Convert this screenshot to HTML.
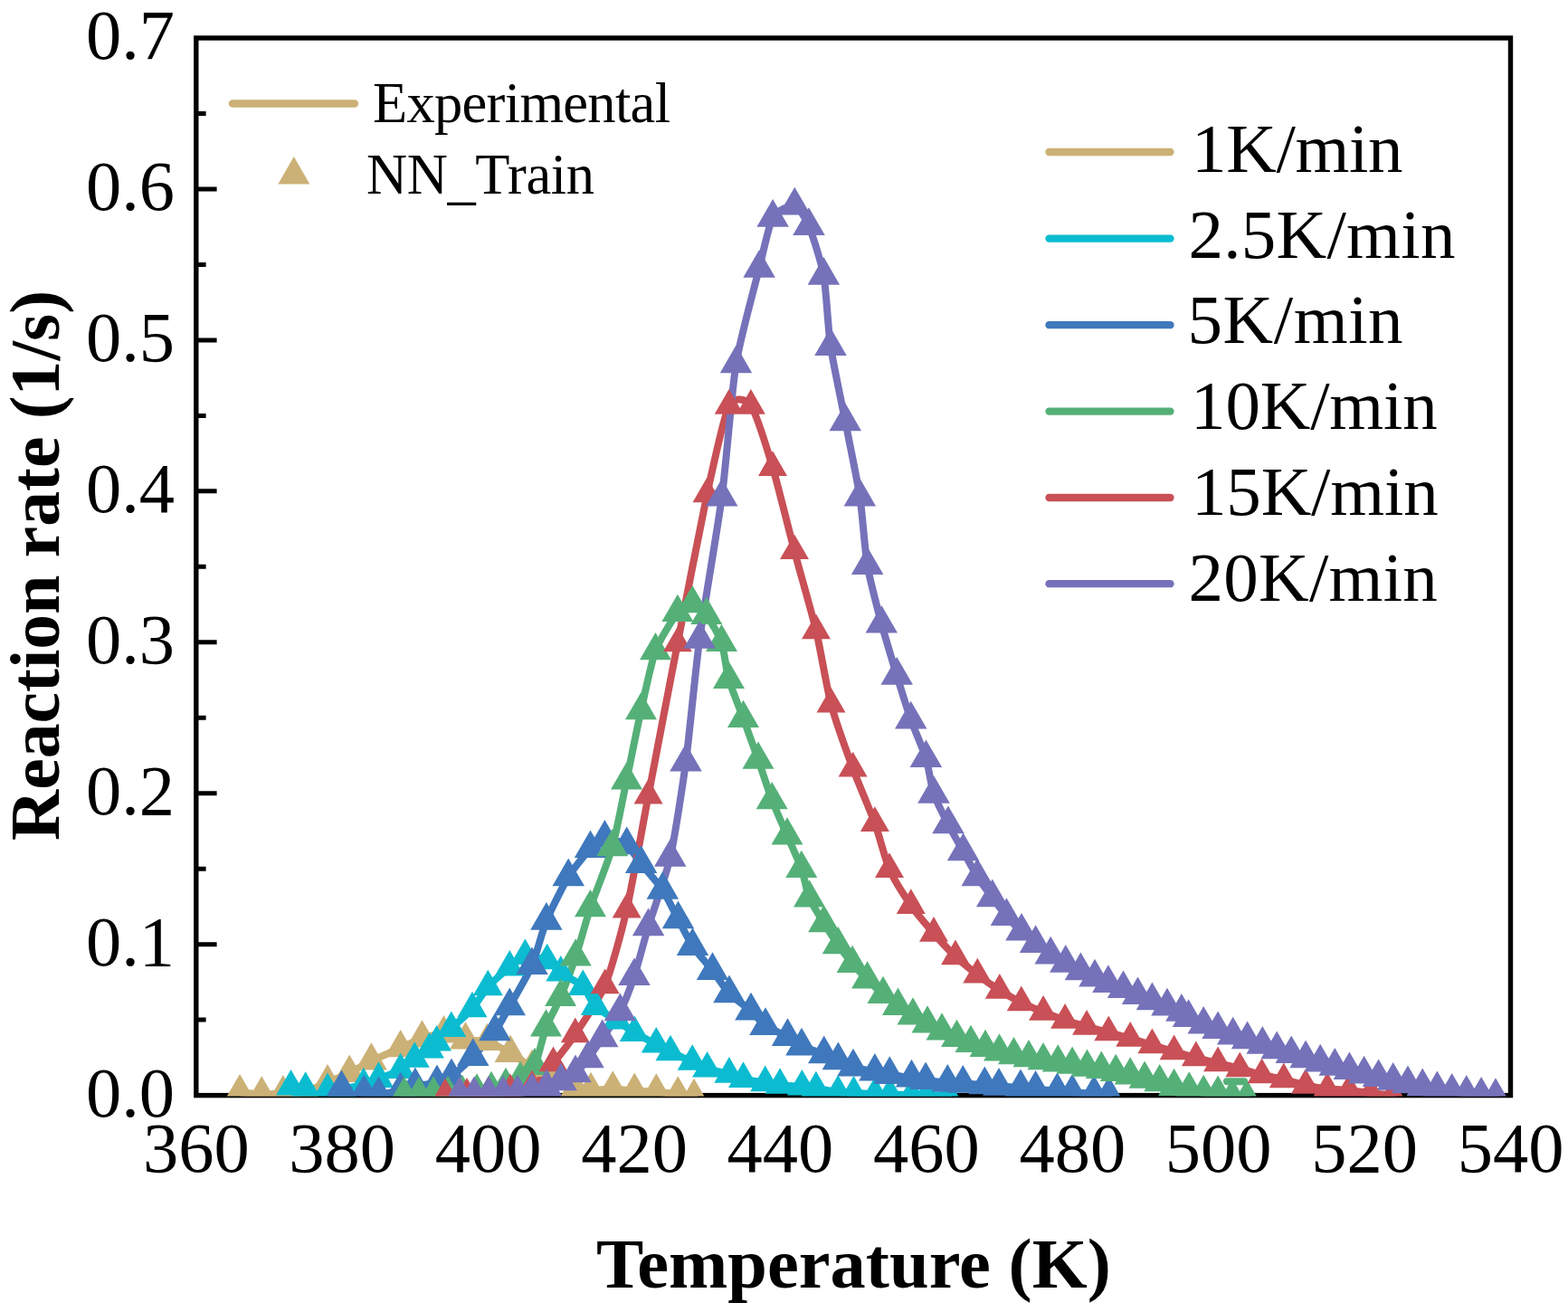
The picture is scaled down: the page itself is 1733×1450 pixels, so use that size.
<!DOCTYPE html>
<html><head><meta charset="utf-8"><title>Reaction rate vs Temperature</title><style>html,body{margin:0;padding:0;background:#fff;overflow:hidden;width:1733px;height:1450px}svg{display:block}</style></head><body>
<svg width="1733" height="1450" viewBox="0 0 1733 1450">
<defs><clipPath id="pc"><rect x="216.8" y="42" width="1452.7" height="1169.6"/></clipPath></defs>
<rect width="1733" height="1450" fill="#fff"/>
<rect x="216.8" y="42" width="1452.7" height="1168.6" fill="none" stroke="#000" stroke-width="5.4"/>
<path d="M216.8 1127.1H227.6M216.8 1043.7H239.6M216.8 960.2H227.6M216.8 876.7H239.6M216.8 793.2H227.6M216.8 709.8H239.6M216.8 626.3H227.6M216.8 542.8H239.6M216.8 459.4H227.6M216.8 375.9H239.6M216.8 292.4H227.6M216.8 208.9H239.6M216.8 125.5H227.6" stroke="#000" stroke-width="5" fill="none"/>
<g font-family="Liberation Serif, Times New Roman, serif" font-size="78.5" fill="#000">
<text x="193" y="1233.8" text-anchor="end">0.0</text>
<text x="193" y="1066.9" text-anchor="end">0.1</text>
<text x="193" y="899.9" text-anchor="end">0.2</text>
<text x="193" y="733" text-anchor="end">0.3</text>
<text x="193" y="566" text-anchor="end">0.4</text>
<text x="193" y="399.1" text-anchor="end">0.5</text>
<text x="193" y="232.1" text-anchor="end">0.6</text>
<text x="193" y="65.2" text-anchor="end">0.7</text>
<text x="216.8" y="1295.4" text-anchor="middle">360</text>
<text x="378.2" y="1295.4" text-anchor="middle">380</text>
<text x="539.6" y="1295.4" text-anchor="middle">400</text>
<text x="701" y="1295.4" text-anchor="middle">420</text>
<text x="862.4" y="1295.4" text-anchor="middle">440</text>
<text x="1023.9" y="1295.4" text-anchor="middle">460</text>
<text x="1185.3" y="1295.4" text-anchor="middle">480</text>
<text x="1346.7" y="1295.4" text-anchor="middle">500</text>
<text x="1508.1" y="1295.4" text-anchor="middle">520</text>
<text x="1669.5" y="1295.4" text-anchor="middle">540</text>
</g>
<text x="659" y="1423" font-family="Liberation Serif, Times New Roman, serif" font-weight="bold" font-size="78.4" textLength="568.8" lengthAdjust="spacing">Temperature (K)</text>
<text transform="translate(65.4 928.9) rotate(-90)" x="0" y="0" font-family="Liberation Serif, Times New Roman, serif" font-weight="bold" font-size="77.65">Reaction rate (1/s)</text>
<g clip-path="url(#pc)">
<path d="M265 1207.1C267.7 1207.4 283.9 1209.3 289.2 1209.4C294.5 1209.5 307.6 1208.6 312.9 1208.3C318.2 1208 331.6 1207.8 337.1 1206.5C342.6 1205.2 356.5 1198.5 362 1196.2C367.5 1193.9 380.8 1188.4 386.2 1185.8C391.6 1183.2 404.1 1175.6 410.4 1172.5C416.7 1169.4 436.5 1160.9 442.7 1158.1C448.9 1155.3 461.2 1149.3 466.5 1147.5C471.8 1145.7 485.2 1142.1 490.5 1142.3C495.8 1142.5 509.2 1148.5 514.5 1149.5C519.8 1150.5 533 1149.4 538.5 1151C544 1152.6 558.5 1160.6 564 1163.8C569.5 1167 582.7 1176.5 588 1180C593.3 1183.5 606.7 1192.4 612 1195C617.3 1197.6 631.4 1201.9 636 1203C640.6 1204.1 648.4 1204.9 653 1205C657.6 1205.1 671.9 1203.4 677.3 1203.5C682.7 1203.6 696 1205.5 701.3 1205.8C706.6 1206.1 720 1206.1 725.3 1206.5C730.6 1206.9 744.7 1208.9 749.3 1209.5C753.9 1210.1 765 1211.7 767 1212" fill="none" stroke="#CBB176" stroke-width="8" stroke-linejoin="round" stroke-linecap="round"/>
<path d="M321.5 1201.1C323.3 1201.4 333.2 1203 337.7 1203.4C342.2 1203.8 357.5 1204.5 362 1204.5C366.5 1204.5 373.6 1203.6 378 1203C382.4 1202.4 397.3 1200 401.8 1198.8C406.3 1197.6 414 1194.2 418.5 1192.4C423 1190.6 438.3 1185.1 442.7 1182.6C447.1 1180.1 454.8 1172.8 458.3 1170.3C461.8 1167.8 471.8 1162 474.5 1160C477.2 1158 479.9 1154.6 482.6 1152C485.3 1149.4 494.4 1140.6 498.8 1136.5C503.2 1132.4 517.5 1119.9 522 1114.8C526.5 1109.7 534.7 1095.9 539.3 1090.8C543.9 1085.7 558.7 1072.8 563.3 1069C567.9 1065.2 575.8 1057.3 580.4 1056.5C585 1055.7 600.3 1059.7 604.7 1061.8C609.1 1063.9 615.4 1071.8 619.8 1075C624.2 1078.2 640 1086.3 644.3 1090.5C648.6 1094.7 654.1 1108.4 658.3 1112.6C662.5 1116.8 677.2 1124.8 682 1128C686.8 1131.2 696.5 1138.6 701.3 1141.5C706.1 1144.4 720.9 1151.6 725.3 1154C729.7 1156.4 736.6 1160.7 741 1162.8C745.4 1164.9 760.7 1171.3 765.2 1173.3C769.7 1175.3 777.1 1179.6 781.6 1181.1C786.1 1182.6 801.5 1185.9 805.9 1187.2C810.3 1188.5 817.1 1191.3 821.5 1192.4C825.9 1193.5 841.2 1195.9 845.7 1196.7C850.2 1197.5 857.6 1198.8 862.1 1199.3C866.6 1199.8 882 1200.6 886.4 1201C890.8 1201.4 897.5 1202.1 901.9 1202.8C906.3 1203.5 921.6 1206.5 926.2 1207.1C930.8 1207.7 939 1207.8 943.5 1208C948 1208.2 962.6 1208.8 967 1209C971.4 1209.2 979 1209.4 983.5 1209.5C988 1209.6 1003 1209.9 1007.5 1210C1012 1210.1 1019.5 1210.4 1024 1210.5C1028.5 1210.6 1045.3 1210.9 1048 1211" fill="none" stroke="#0BBCD0" stroke-width="8" stroke-linejoin="round" stroke-linecap="round"/>
<path d="M377.5 1203C380.3 1203.6 397.7 1207.2 402.3 1208C406.9 1208.8 414 1210.3 418.5 1210C423 1209.7 438.1 1206.1 442.6 1205C447.1 1203.9 454.4 1200.9 458.9 1200C463.4 1199.1 478.5 1198.1 483 1197C487.5 1195.9 494.6 1193.3 499 1190C503.4 1186.7 517.5 1173.3 522.8 1167.7C528.1 1162.1 542.5 1146.2 547 1140C551.5 1133.8 558.7 1120.1 563.3 1112C567.9 1103.9 583.5 1077.4 588 1066.9C592.5 1056.4 599.4 1028.5 603.9 1017.6C608.4 1006.7 622.8 978 628.2 969.1C633.6 960.2 648 942.6 652.5 937.9C657 933.2 663.9 926.9 668.4 926.5C672.9 926.1 688.2 931 692.7 934.1C697.2 937.2 704.2 949.2 708.6 954.7C713 960.2 727.9 976.7 732.4 983.5C736.9 990.3 745.8 1009.1 749.5 1016C753.2 1022.9 761.3 1039.4 765.5 1045.7C769.7 1052 783 1066.9 787.5 1072.7C792 1078.5 801.3 1093.1 806 1098C810.7 1102.9 825.6 1113.2 830 1117.2C834.4 1121.2 841.5 1130.6 846 1133.8C850.5 1137 866.1 1143.2 870.5 1145.7C874.9 1148.2 881.5 1154.1 886 1156.2C890.5 1158.3 906.2 1163.2 910.7 1165C915.2 1166.8 922.8 1170.4 926.4 1172C930 1173.6 938.5 1177.8 943 1179.2C947.5 1180.6 962.4 1183.4 966.9 1184.4C971.4 1185.4 978.8 1187 983.3 1187.8C987.8 1188.6 1003.1 1190.6 1007.5 1191.3C1011.9 1192 1018.7 1193.3 1023.1 1193.9C1027.5 1194.5 1042.7 1196.1 1047.3 1196.5C1051.9 1196.9 1059.7 1197.3 1064.3 1197.6C1068.9 1197.9 1083.9 1198.8 1088.3 1199.1C1092.7 1199.4 1099.6 1200.2 1104 1200.5C1108.4 1200.8 1123.5 1201.7 1128 1202C1132.5 1202.3 1140.1 1203.1 1144.6 1203.5C1149.1 1203.9 1164 1205.4 1168.5 1205.8C1173 1206.2 1180.6 1207 1185.1 1207.3C1189.6 1207.6 1204.6 1208.5 1209.1 1208.8C1213.6 1209.1 1223.8 1209.9 1225.6 1210" fill="none" stroke="#3F78BC" stroke-width="8" stroke-linejoin="round" stroke-linecap="round"/>
<path d="M446.8 1210C448.6 1210 459.4 1210.1 463 1210C466.6 1209.9 475.4 1209.6 479 1209.5C482.6 1209.4 491.4 1209.2 495 1209C498.6 1208.8 507.4 1208.3 511 1208C514.6 1207.7 523.4 1206.9 527 1206.5C530.6 1206.1 539.4 1204.7 543 1204C546.6 1203.3 555.4 1201.2 559 1200C562.6 1198.8 571.4 1195.4 575 1193C578.6 1190.6 587.8 1184.4 591 1178C594.2 1171.6 600.3 1143.9 603.5 1135.5C606.7 1127.1 616 1110.7 619.6 1102C623.2 1093.3 632.6 1068.5 636.3 1057.5C640 1046.5 648 1016.7 652.5 1003.2C657 989.7 672.4 951.8 676.8 936.2C681.2 920.6 689 879.3 692.5 862.5C696 845.7 704.9 801.1 708.5 785.2C712.1 769.3 720 731.2 724.5 719.2C729 707.2 744.4 682.8 748.9 677C753.4 671.2 761.9 666.8 765.4 667.1C768.9 667.4 777.2 675.2 780.8 680C784.4 684.8 794.8 702.1 797.5 710C800.2 717.9 802.8 741.6 805.5 750.9C808.2 760.2 817.9 784.1 821.5 794C825.1 803.9 834.5 829.7 838 839.7C841.5 849.7 849.6 874.8 853.2 884.1C856.8 893.4 866.4 915.1 870 923.5C873.6 931.9 883.1 952.2 885.8 959.9C888.5 967.6 891.7 985.8 894.5 992.5C897.3 999.2 907.1 1014.5 910.6 1020.2C914.1 1025.9 922.8 1039.2 926.3 1044.2C929.8 1049.2 938.5 1060.6 942.1 1064.9C945.7 1069.2 954.8 1078.7 958.6 1082.5C962.4 1086.3 972.2 1095.7 976 1099C979.8 1102.3 988.8 1109.2 992.5 1111.8C996.2 1114.4 1005.4 1120.3 1009 1122.5C1012.6 1124.7 1021.4 1129.6 1025 1131.5C1028.6 1133.4 1037.4 1137.8 1041 1139.5C1044.6 1141.2 1053.9 1145.5 1057.5 1147C1061.1 1148.5 1069.5 1151.8 1073 1153C1076.5 1154.2 1085.5 1156.9 1089 1158C1092.5 1159.1 1101 1161.6 1104.5 1162.5C1108 1163.4 1116.9 1165.5 1120.5 1166.2C1124.1 1166.9 1133.4 1168.5 1137 1169.2C1140.6 1169.9 1149.4 1171.6 1153 1172.2C1156.6 1172.8 1165.7 1174 1169.3 1174.5C1172.9 1175 1181.5 1176.1 1185.1 1176.7C1188.7 1177.3 1197.9 1179 1201.5 1179.6C1205.1 1180.2 1213.8 1181.2 1217.3 1181.8C1220.8 1182.4 1229.7 1184.3 1233.2 1185C1236.7 1185.7 1245.7 1187.7 1249.2 1188.5C1252.7 1189.3 1261.5 1191.8 1265.1 1192.6C1268.7 1193.4 1278.1 1195.2 1281.7 1196.1C1285.3 1197 1294 1200 1297.6 1200.9C1301.2 1201.8 1310.7 1203.6 1314.3 1204.4C1317.9 1205.2 1326.7 1207.4 1330.2 1207.9C1333.7 1208.4 1342.6 1208.1 1346.1 1208.6C1349.6 1209.1 1358.5 1211.5 1362 1212C1365.5 1212.5 1376.2 1212.9 1378 1213" fill="none" stroke="#55B078" stroke-width="8" stroke-linejoin="round" stroke-linecap="round"/>
<path d="M492 1210C494.7 1209.9 510.7 1209.7 516 1209.5C521.3 1209.3 534.7 1208.5 540 1208C545.3 1207.5 558.7 1205.8 564 1205C569.3 1204.2 582.7 1204.3 588 1201C593.3 1197.7 606.2 1181.4 611.5 1175C616.8 1168.6 629.4 1152.6 635.8 1143C642.2 1133.4 662.4 1104.3 668.7 1089C675 1073.7 687.4 1028.5 692.7 1005.2C698 981.9 710.4 911.9 716.6 879.2C722.8 846.5 741.7 748 748.9 711C756.1 674 775.2 575.2 781.5 546C787.8 516.8 800.3 459.3 805.7 448.5C811.1 437.7 824.5 440.9 829.9 448.5C835.3 456.1 848.7 498.9 854 516.7C859.3 534.5 872.7 588.9 878 608.9C883.3 628.9 897.5 678.2 902 697C906.5 715.8 914 761.4 918.5 778.3C923 795.2 937.2 834.7 942.6 849.3C948 863.9 962.4 897.3 966.9 909.7C971.4 922.1 978.6 950.6 983 960.7C987.4 970.8 1001.4 992.8 1006.8 1000.7C1012.2 1008.6 1026.5 1025.2 1032 1031.5C1037.5 1037.8 1050.6 1051.9 1056 1057C1061.4 1062.1 1074.9 1073 1080.3 1077.2C1085.7 1081.4 1099.4 1091.1 1104.8 1094.5C1110.2 1097.9 1123.4 1105.3 1128.8 1108C1134.2 1110.7 1147.7 1116.3 1153.1 1118.5C1158.5 1120.7 1171.8 1125.7 1177.1 1127.5C1182.4 1129.3 1195.7 1133 1201.1 1134.5C1206.5 1136 1220 1139.6 1225.3 1141C1230.6 1142.4 1243.9 1145.9 1249.2 1147.5C1254.5 1149.1 1268 1153.4 1273.4 1155C1278.8 1156.6 1292.2 1160.4 1297.6 1162C1303 1163.6 1316.5 1167.6 1321.9 1169C1327.3 1170.4 1340.7 1173.7 1346.1 1175C1351.5 1176.3 1364.9 1179.6 1370.3 1181C1375.7 1182.4 1389.2 1186.7 1394.6 1188C1400 1189.3 1413.4 1191.7 1418.8 1193C1424.2 1194.3 1437.6 1198.3 1443 1199.5C1448.4 1200.7 1461.7 1202.9 1467 1203.5C1472.3 1204.1 1485.7 1204.5 1491 1205C1496.3 1205.5 1509.7 1207.4 1515 1208C1520.3 1208.6 1536.3 1210.2 1539 1210.5" fill="none" stroke="#C85056" stroke-width="8" stroke-linejoin="round" stroke-linecap="round"/>
<path d="M508 1210C509.8 1210 520.4 1210.1 524 1210C527.6 1209.9 536.4 1209.6 540 1209.5C543.6 1209.4 552.4 1209.2 556 1209C559.6 1208.8 568.4 1208.3 572 1208C575.6 1207.7 584.4 1206.7 588 1206C591.6 1205.3 600.4 1203.2 604 1202C607.6 1200.8 616.4 1196.8 620 1195C623.6 1193.2 632.7 1188.8 636 1186C639.3 1183.2 646.7 1174.3 650 1170C653.3 1165.7 661.9 1152.8 665.8 1147C669.7 1141.2 681.5 1125.7 685.4 1118.1C689.3 1110.5 697.5 1089.3 701 1078.9C704.5 1068.5 712.2 1038.7 716.6 1024.1C721 1009.5 736.2 967.8 740.8 947.6C745.4 927.4 754.4 869.1 758 842.3C761.6 815.5 768.8 739 773.2 706.5C777.6 674 793.3 583.2 797.8 549.4C802.3 515.6 808.9 430.2 813.5 402.1C818.1 374 834.6 314.5 839.1 296.6C843.6 278.7 849.7 248.3 854.1 240.6C858.5 232.9 873.9 226.3 878.3 227.3C882.7 228.3 890.4 241.2 894 249.8C897.6 258.4 907.7 289.8 910.4 304.6C913.1 319.4 915.3 364.9 918 382.8C920.7 400.7 930.7 447.6 934.3 466.1C937.9 484.6 947.7 531.7 950.4 549.3C953.1 566.9 955.9 609.1 958.6 624.7C961.3 640.3 970.7 675.9 974.3 689.4C977.9 702.9 987.6 734.7 991.2 746.5C994.8 758.3 1003.1 785.1 1006.7 795.3C1010.3 805.5 1020.6 828.8 1023.4 837.9C1026.2 847 1029.3 869.4 1032 877.5C1034.7 885.6 1044.4 903.9 1048 911C1051.6 918.1 1061 934.6 1064.6 941C1068.2 947.4 1076.6 963.3 1080.2 969C1083.8 974.7 1093.2 987.1 1096.8 992C1100.4 996.9 1108.8 1008.5 1112.4 1012.7C1116 1016.9 1125.4 1026.1 1129 1029.4C1132.6 1032.7 1141 1039.9 1144.6 1042.8C1148.2 1045.7 1157.5 1052.9 1161.2 1055.3C1164.9 1057.7 1174.1 1062.6 1177.8 1064.6C1181.5 1066.6 1190.8 1071.3 1194.4 1073C1198 1074.7 1206.6 1078.7 1210 1080.2C1213.4 1081.7 1221.4 1085.3 1224.9 1086.7C1228.4 1088.1 1237.9 1091.4 1241.5 1092.9C1245.1 1094.4 1254 1098.4 1257.5 1099.9C1261 1101.4 1269.8 1104.7 1273.4 1106.1C1277 1107.5 1286.4 1110.9 1290 1112.3C1293.6 1113.7 1303.3 1117.1 1305.9 1118.5C1308.5 1119.9 1310.9 1123.3 1313.6 1124.8C1316.3 1126.3 1326.6 1130.9 1330.2 1132.4C1333.8 1133.9 1342.5 1136.6 1346.1 1137.9C1349.7 1139.2 1359.1 1143 1362.7 1144.2C1366.3 1145.4 1375 1147.8 1378.6 1149C1382.2 1150.2 1391.7 1153.4 1395.3 1154.6C1398.9 1155.8 1407.7 1159 1411.2 1160.1C1414.7 1161.2 1423.7 1163.8 1427.2 1164.9C1430.7 1166 1439.5 1169 1443.1 1170C1446.7 1171 1455.6 1173.3 1459.2 1174.3C1462.8 1175.3 1471.7 1177.6 1475.3 1178.6C1478.9 1179.6 1487.8 1181.9 1491.4 1182.9C1495 1183.9 1504 1186.4 1507.6 1187.3C1511.2 1188.2 1520 1190.1 1523.6 1190.9C1527.2 1191.7 1536.1 1193.7 1539.7 1194.5C1543.3 1195.3 1552.4 1197.4 1556 1198.1C1559.6 1198.8 1568.6 1200.4 1572.2 1201C1575.8 1201.6 1584.8 1203.3 1588.4 1203.9C1592 1204.5 1601.1 1206 1604.7 1206.5C1608.3 1207 1617.2 1208.1 1620.8 1208.5C1624.4 1208.9 1633.5 1210 1637.1 1210.4C1640.7 1210.8 1651.2 1211.6 1653 1211.8" fill="none" stroke="#7572BA" stroke-width="8" stroke-linejoin="round" stroke-linecap="round"/>
<path d="M1356 1195.2H1375" stroke="#55B078" stroke-width="8" stroke-linecap="round"/>
<path d="M265 1186.9L282.5 1217.2L247.5 1217.2ZM289.2 1189.2L306.7 1219.5L271.7 1219.5ZM312.9 1188.1L330.4 1218.4L295.4 1218.4ZM337.1 1186.3L354.6 1216.6L319.6 1216.6ZM362 1176L379.5 1206.3L344.5 1206.3ZM386.2 1165.6L403.7 1195.9L368.7 1195.9ZM410.4 1152.3L427.9 1182.6L392.9 1182.6ZM442.7 1137.9L460.2 1168.2L425.2 1168.2ZM466.5 1127.3L484 1157.6L449 1157.6ZM490.5 1122.1L508 1152.4L473 1152.4ZM514.5 1129.3L532 1159.6L497 1159.6ZM538.5 1130.8L556 1161.1L521 1161.1ZM564 1143.6L581.5 1173.9L546.5 1173.9ZM588 1159.8L605.5 1190.1L570.5 1190.1ZM612 1174.8L629.5 1205.1L594.5 1205.1ZM636 1182.8L653.5 1213.1L618.5 1213.1ZM653 1184.8L670.5 1215.1L635.5 1215.1ZM677.3 1183.3L694.8 1213.6L659.8 1213.6ZM701.3 1185.6L718.8 1215.9L683.8 1215.9ZM725.3 1186.3L742.8 1216.6L707.8 1216.6ZM749.3 1189.3L766.8 1219.6L731.8 1219.6ZM767 1191.8L784.5 1222.1L749.5 1222.1Z" fill="#CBB176"/>
<path d="M321.5 1182L338 1210.6L305 1210.6ZM337.7 1184.3L354.2 1212.9L321.2 1212.9ZM362 1185.4L378.5 1214L345.5 1214ZM378 1183.9L394.5 1212.5L361.5 1212.5ZM401.8 1179.7L418.3 1208.3L385.3 1208.3ZM418.5 1173.3L435 1201.9L402 1201.9ZM442.7 1163.5L459.2 1192.1L426.2 1192.1ZM458.3 1151.2L474.8 1179.8L441.8 1179.8ZM474.5 1140.9L491 1169.5L458 1169.5ZM482.6 1132.9L499.1 1161.5L466.1 1161.5ZM498.8 1117.4L515.3 1146L482.3 1146ZM522 1095.7L538.5 1124.3L505.5 1124.3ZM539.3 1071.7L555.8 1100.3L522.8 1100.3ZM563.3 1049.9L579.8 1078.5L546.8 1078.5ZM580.4 1037.4L596.9 1066L563.9 1066ZM604.7 1042.7L621.2 1071.3L588.2 1071.3ZM619.8 1055.9L636.3 1084.5L603.3 1084.5ZM644.3 1071.4L660.8 1100L627.8 1100ZM658.3 1093.5L674.8 1122.1L641.8 1122.1ZM682 1108.9L698.5 1137.5L665.5 1137.5ZM701.3 1122.4L717.8 1151L684.8 1151ZM725.3 1134.9L741.8 1163.5L708.8 1163.5ZM741 1143.7L757.5 1172.3L724.5 1172.3ZM765.2 1154.2L781.7 1182.8L748.7 1182.8ZM781.6 1162L798.1 1190.6L765.1 1190.6ZM805.9 1168.1L822.4 1196.7L789.4 1196.7ZM821.5 1173.3L838 1201.9L805 1201.9ZM845.7 1177.6L862.2 1206.2L829.2 1206.2ZM862.1 1180.2L878.6 1208.8L845.6 1208.8ZM886.4 1181.9L902.9 1210.5L869.9 1210.5ZM901.9 1183.7L918.4 1212.3L885.4 1212.3ZM926.2 1188L942.7 1216.6L909.7 1216.6ZM943.5 1188.9L960 1217.5L927 1217.5ZM967 1189.9L983.5 1218.5L950.5 1218.5ZM983.5 1190.4L1000 1219L967 1219ZM1007.5 1190.9L1024 1219.5L991 1219.5ZM1024 1191.4L1040.5 1220L1007.5 1220ZM1048 1191.9L1064.5 1220.5L1031.5 1220.5Z" fill="#0BBCD0"/>
<path d="M377.5 1182.5L395.2 1213.2L359.8 1213.2ZM402.3 1187.5L420.1 1218.2L384.6 1218.2ZM418.5 1189.5L436.2 1220.2L400.8 1220.2ZM442.6 1184.5L460.4 1215.2L424.9 1215.2ZM458.9 1179.5L476.6 1210.2L441.1 1210.2ZM483 1176.5L500.8 1207.2L465.2 1207.2ZM499 1169.5L516.8 1200.2L481.2 1200.2ZM522.8 1147.2L540.5 1177.9L505 1177.9ZM547 1119.5L564.8 1150.2L529.2 1150.2ZM563.3 1091.5L581 1122.2L545.5 1122.2ZM588 1046.4L605.8 1077.1L570.2 1077.1ZM603.9 997.1L621.6 1027.8L586.1 1027.8ZM628.2 948.6L646 979.3L610.5 979.3ZM652.5 917.4L670.2 948.1L634.8 948.1ZM668.4 906L686.1 936.7L650.6 936.7ZM692.7 913.6L710.5 944.3L675 944.3ZM708.6 934.2L726.4 964.9L690.9 964.9ZM732.4 963L750.1 993.7L714.6 993.7ZM749.5 995.5L767.2 1026.2L731.8 1026.2ZM765.5 1025.2L783.2 1055.9L747.8 1055.9ZM787.5 1052.2L805.2 1082.9L769.8 1082.9ZM806 1077.5L823.8 1108.2L788.2 1108.2ZM830 1096.7L847.8 1127.4L812.2 1127.4ZM846 1113.3L863.8 1144L828.2 1144ZM870.5 1125.2L888.2 1155.9L852.8 1155.9ZM886 1135.7L903.8 1166.4L868.2 1166.4ZM910.7 1144.5L928.5 1175.2L893 1175.2ZM926.4 1151.5L944.1 1182.2L908.6 1182.2ZM943 1158.7L960.8 1189.4L925.2 1189.4ZM966.9 1163.9L984.6 1194.6L949.1 1194.6ZM983.3 1167.3L1001 1198L965.5 1198ZM1007.5 1170.8L1025.2 1201.5L989.8 1201.5ZM1023.1 1173.4L1040.8 1204.1L1005.4 1204.1ZM1047.3 1176L1065 1206.7L1029.5 1206.7ZM1064.3 1177.1L1082 1207.8L1046.5 1207.8ZM1088.3 1178.6L1106 1209.3L1070.5 1209.3ZM1104 1180L1121.8 1210.7L1086.2 1210.7ZM1128 1181.5L1145.8 1212.2L1110.2 1212.2ZM1144.6 1183L1162.3 1213.7L1126.8 1213.7ZM1168.5 1185.3L1186.2 1216L1150.8 1216ZM1185.1 1186.8L1202.8 1217.5L1167.3 1217.5ZM1209.1 1188.3L1226.8 1219L1191.3 1219ZM1225.6 1189.5L1243.3 1220.2L1207.8 1220.2Z" fill="#3F78BC"/>
<path d="M446.8 1189.8L464.3 1220.1L429.3 1220.1ZM463 1189.8L480.5 1220.1L445.5 1220.1ZM479 1189.3L496.5 1219.6L461.5 1219.6ZM495 1188.8L512.5 1219.1L477.5 1219.1ZM511 1187.8L528.5 1218.1L493.5 1218.1ZM527 1186.3L544.5 1216.6L509.5 1216.6ZM543 1183.8L560.5 1214.1L525.5 1214.1ZM559 1179.8L576.5 1210.1L541.5 1210.1ZM575 1172.8L592.5 1203.1L557.5 1203.1ZM591 1157.8L608.5 1188.1L573.5 1188.1ZM603.5 1115.3L621 1145.6L586 1145.6ZM619.6 1081.8L637.1 1112.1L602.1 1112.1ZM636.3 1037.3L653.8 1067.6L618.8 1067.6ZM652.5 983L670 1013.3L635 1013.3ZM676.8 916L694.3 946.3L659.3 946.3ZM692.5 842.3L710 872.6L675 872.6ZM708.5 765L726 795.3L691 795.3ZM724.5 699L742 729.3L707 729.3ZM748.9 656.8L766.4 687.1L731.4 687.1ZM765.4 646.9L782.9 677.2L747.9 677.2ZM780.8 659.8L798.3 690.1L763.3 690.1ZM797.5 689.8L815 720.1L780 720.1ZM805.5 730.7L823 761L788 761ZM821.5 773.8L839 804.1L804 804.1ZM838 819.5L855.5 849.8L820.5 849.8ZM853.2 863.9L870.7 894.2L835.7 894.2ZM870 903.3L887.5 933.6L852.5 933.6ZM885.8 939.7L903.3 970L868.3 970ZM894.5 972.3L912 1002.6L877 1002.6ZM910.6 1000L928.1 1030.3L893.1 1030.3ZM926.3 1024L943.8 1054.3L908.8 1054.3ZM942.1 1044.7L959.6 1075L924.6 1075ZM958.6 1062.3L976.1 1092.6L941.1 1092.6ZM976 1078.8L993.5 1109.1L958.5 1109.1ZM992.5 1091.6L1010 1121.9L975 1121.9ZM1009 1102.3L1026.5 1132.6L991.5 1132.6ZM1025 1111.3L1042.5 1141.6L1007.5 1141.6ZM1041 1119.3L1058.5 1149.6L1023.5 1149.6ZM1057.5 1126.8L1075 1157.1L1040 1157.1ZM1073 1132.8L1090.5 1163.1L1055.5 1163.1ZM1089 1137.8L1106.5 1168.1L1071.5 1168.1ZM1104.5 1142.3L1122 1172.6L1087 1172.6ZM1120.5 1146L1138 1176.3L1103 1176.3ZM1137 1149L1154.5 1179.3L1119.5 1179.3ZM1153 1152L1170.5 1182.3L1135.5 1182.3ZM1169.3 1154.3L1186.8 1184.6L1151.8 1184.6ZM1185.1 1156.5L1202.6 1186.8L1167.6 1186.8ZM1201.5 1159.4L1219 1189.7L1184 1189.7ZM1217.3 1161.6L1234.8 1191.9L1199.8 1191.9ZM1233.2 1164.8L1250.7 1195.1L1215.7 1195.1ZM1249.2 1168.3L1266.7 1198.6L1231.7 1198.6ZM1265.1 1172.4L1282.6 1202.7L1247.6 1202.7ZM1281.7 1175.9L1299.2 1206.2L1264.2 1206.2ZM1297.6 1180.7L1315.1 1211L1280.1 1211ZM1314.3 1184.2L1331.8 1214.5L1296.8 1214.5ZM1330.2 1187.7L1347.7 1218L1312.7 1218ZM1346.1 1188.4L1363.6 1218.7L1328.6 1218.7ZM1362 1191.8L1379.5 1222.1L1344.5 1222.1ZM1378 1192.8L1395.5 1223.1L1360.5 1223.1Z" fill="#55B078"/>
<path d="M492 1191.5L508 1219.2L476 1219.2ZM516 1191L532 1218.7L500 1218.7ZM540 1189.5L556 1217.2L524 1217.2ZM564 1186.5L580 1214.2L548 1214.2ZM588 1182.5L604 1210.2L572 1210.2ZM611.5 1156.5L627.5 1184.2L595.5 1184.2ZM635.8 1124.5L651.8 1152.2L619.8 1152.2ZM668.7 1070.5L684.7 1098.2L652.7 1098.2ZM692.7 986.7L708.7 1014.4L676.7 1014.4ZM716.6 860.7L732.6 888.4L700.6 888.4ZM748.9 692.5L764.9 720.2L732.9 720.2ZM781.5 527.5L797.5 555.2L765.5 555.2ZM805.7 430L821.7 457.7L789.7 457.7ZM829.9 430L845.9 457.7L813.9 457.7ZM854 498.2L870 525.9L838 525.9ZM878 590.4L894 618.1L862 618.1ZM902 678.5L918 706.2L886 706.2ZM918.5 759.8L934.5 787.5L902.5 787.5ZM942.6 830.8L958.6 858.5L926.6 858.5ZM966.9 891.2L982.9 918.9L950.9 918.9ZM983 942.2L999 969.9L967 969.9ZM1006.8 982.2L1022.8 1009.9L990.8 1009.9ZM1032 1013L1048 1040.7L1016 1040.7ZM1056 1038.5L1072 1066.2L1040 1066.2ZM1080.3 1058.7L1096.3 1086.4L1064.3 1086.4ZM1104.8 1076L1120.8 1103.7L1088.8 1103.7ZM1128.8 1089.5L1144.8 1117.2L1112.8 1117.2ZM1153.1 1100L1169.1 1127.7L1137.1 1127.7ZM1177.1 1109L1193.1 1136.7L1161.1 1136.7ZM1201.1 1116L1217.1 1143.7L1185.1 1143.7ZM1225.3 1122.5L1241.3 1150.2L1209.3 1150.2ZM1249.2 1129L1265.2 1156.7L1233.2 1156.7ZM1273.4 1136.5L1289.4 1164.2L1257.4 1164.2ZM1297.6 1143.5L1313.6 1171.2L1281.6 1171.2ZM1321.9 1150.5L1337.9 1178.2L1305.9 1178.2ZM1346.1 1156.5L1362.1 1184.2L1330.1 1184.2ZM1370.3 1162.5L1386.3 1190.2L1354.3 1190.2ZM1394.6 1169.5L1410.6 1197.2L1378.6 1197.2ZM1418.8 1174.5L1434.8 1202.2L1402.8 1202.2ZM1443 1181L1459 1208.7L1427 1208.7ZM1467 1185L1483 1212.7L1451 1212.7ZM1491 1186.5L1507 1214.2L1475 1214.2ZM1515 1189.5L1531 1217.2L1499 1217.2ZM1539 1192L1555 1219.7L1523 1219.7Z" fill="#C85056"/>
<path d="M508 1189.5L525.8 1220.2L490.2 1220.2ZM524 1189.5L541.8 1220.2L506.2 1220.2ZM540 1189L557.8 1219.7L522.2 1219.7ZM556 1188.5L573.8 1219.2L538.2 1219.2ZM572 1187.5L589.8 1218.2L554.2 1218.2ZM588 1185.5L605.8 1216.2L570.2 1216.2ZM604 1181.5L621.8 1212.2L586.2 1212.2ZM620 1174.5L637.8 1205.2L602.2 1205.2ZM636 1165.5L653.8 1196.2L618.2 1196.2ZM650 1149.5L667.8 1180.2L632.2 1180.2ZM665.8 1126.5L683.5 1157.2L648 1157.2ZM685.4 1097.6L703.1 1128.3L667.6 1128.3ZM701 1058.4L718.8 1089.1L683.2 1089.1ZM716.6 1003.6L734.4 1034.3L698.9 1034.3ZM740.8 927.1L758.5 957.8L723 957.8ZM758 821.8L775.8 852.5L740.2 852.5ZM773.2 686L791 716.7L755.5 716.7ZM797.8 528.9L815.5 559.6L780 559.6ZM813.5 381.6L831.2 412.3L795.8 412.3ZM839.1 276.1L856.9 306.8L821.4 306.8ZM854.1 220.1L871.9 250.8L836.4 250.8ZM878.3 206.8L896 237.5L860.5 237.5ZM894 229.3L911.8 260L876.2 260ZM910.4 284.1L928.1 314.8L892.6 314.8ZM918 362.3L935.8 393L900.2 393ZM934.3 445.6L952 476.3L916.5 476.3ZM950.4 528.8L968.1 559.5L932.6 559.5ZM958.6 604.2L976.4 634.9L940.9 634.9ZM974.3 668.9L992 699.6L956.5 699.6ZM991.2 726L1009 756.7L973.5 756.7ZM1006.7 774.8L1024.5 805.5L989 805.5ZM1023.4 817.4L1041.2 848.1L1005.6 848.1ZM1032 857L1049.8 887.7L1014.2 887.7ZM1048 890.5L1065.8 921.2L1030.2 921.2ZM1064.6 920.5L1082.3 951.2L1046.8 951.2ZM1080.2 948.5L1098 979.2L1062.5 979.2ZM1096.8 971.5L1114.5 1002.2L1079 1002.2ZM1112.4 992.2L1130.2 1022.9L1094.7 1022.9ZM1129 1008.9L1146.8 1039.6L1111.2 1039.6ZM1144.6 1022.3L1162.3 1053L1126.8 1053ZM1161.2 1034.8L1179 1065.5L1143.5 1065.5ZM1177.8 1044.1L1195.5 1074.8L1160 1074.8ZM1194.4 1052.5L1212.2 1083.2L1176.7 1083.2ZM1210 1059.7L1227.8 1090.4L1192.2 1090.4ZM1224.9 1066.2L1242.7 1096.9L1207.2 1096.9ZM1241.5 1072.4L1259.2 1103.1L1223.8 1103.1ZM1257.5 1079.4L1275.2 1110.1L1239.8 1110.1ZM1273.4 1085.6L1291.2 1116.3L1255.7 1116.3ZM1290 1091.8L1307.8 1122.5L1272.2 1122.5ZM1305.9 1098L1323.7 1128.7L1288.2 1128.7ZM1313.6 1104.3L1331.3 1135L1295.8 1135ZM1330.2 1111.9L1348 1142.6L1312.5 1142.6ZM1346.1 1117.4L1363.8 1148.1L1328.3 1148.1ZM1362.7 1123.7L1380.5 1154.4L1345 1154.4ZM1378.6 1128.5L1396.3 1159.2L1360.8 1159.2ZM1395.3 1134.1L1413 1164.8L1377.5 1164.8ZM1411.2 1139.6L1429 1170.3L1393.5 1170.3ZM1427.2 1144.4L1445 1175.1L1409.5 1175.1ZM1443.1 1149.5L1460.8 1180.2L1425.3 1180.2ZM1459.2 1153.8L1477 1184.5L1441.5 1184.5ZM1475.3 1158.1L1493 1188.8L1457.5 1188.8ZM1491.4 1162.4L1509.2 1193.1L1473.7 1193.1ZM1507.6 1166.8L1525.3 1197.5L1489.8 1197.5ZM1523.6 1170.4L1541.3 1201.1L1505.8 1201.1ZM1539.7 1174L1557.5 1204.7L1522 1204.7ZM1556 1177.6L1573.8 1208.3L1538.2 1208.3ZM1572.2 1180.5L1590 1211.2L1554.5 1211.2ZM1588.4 1183.4L1606.2 1214.1L1570.7 1214.1ZM1604.7 1186L1622.5 1216.7L1587 1216.7ZM1620.8 1188L1638.5 1218.7L1603 1218.7ZM1637.1 1189.9L1654.8 1220.6L1619.3 1220.6ZM1653 1191.3L1670.8 1222L1635.2 1222Z" fill="#7572BA"/>
</g>
<path d="M256.8 114.5H392" stroke="#CBB176" stroke-width="8.3" stroke-linecap="round"/>
<path d="M324.8 173.1L342.3 203.4L307.3 203.4Z" fill="#CBB176"/>
<g font-family="Liberation Serif, Times New Roman, serif" font-size="62.5" fill="#000">
<text x="412" y="134.6" textLength="329" lengthAdjust="spacing">Experimental</text>
<text x="405" y="213.7" textLength="252" lengthAdjust="spacing">NN<tspan dy="5.5">_</tspan><tspan dy="-5.5">Train</tspan></text>
</g>
<g font-family="Liberation Serif, Times New Roman, serif" font-size="77" fill="#000">
<path d="M1159.5 168H1293.5" stroke="#CBB176" stroke-width="8.3" stroke-linecap="round"/>
<text x="1317" y="189.6" textLength="233.6" lengthAdjust="spacing">1K/min</text>
<path d="M1159.5 263.6H1293.5" stroke="#0BBCD0" stroke-width="8.3" stroke-linecap="round"/>
<text x="1313.6" y="284.5" textLength="294.8" lengthAdjust="spacing">2.5K/min</text>
<path d="M1159.5 359.2H1293.5" stroke="#3F78BC" stroke-width="8.3" stroke-linecap="round"/>
<text x="1312.5" y="379.3" textLength="238.1" lengthAdjust="spacing">5K/min</text>
<path d="M1159.5 454.6H1293.5" stroke="#55B078" stroke-width="8.3" stroke-linecap="round"/>
<text x="1316.1" y="474.2" textLength="272.7" lengthAdjust="spacing">10K/min</text>
<path d="M1159.5 550H1293.5" stroke="#C85056" stroke-width="8.3" stroke-linecap="round"/>
<text x="1317" y="569" textLength="272.8" lengthAdjust="spacing">15K/min</text>
<path d="M1159.5 645.2H1293.5" stroke="#7572BA" stroke-width="8.3" stroke-linecap="round"/>
<text x="1313.6" y="663.9" textLength="275.2" lengthAdjust="spacing">20K/min</text>
</g>
</svg>
</body></html>
